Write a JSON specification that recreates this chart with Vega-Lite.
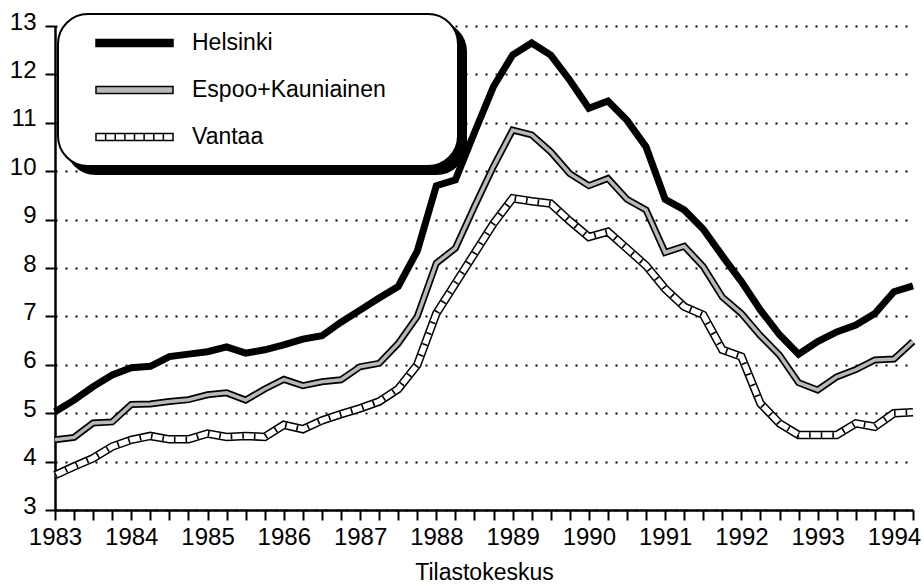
{
  "$schema": "https://vega.github.io/schema/vega-lite/v6.json",
  "width": 858,
  "height": 484,
  "autosize": {"type": "none"},
  "padding": {"left": 55, "top": 26, "right": 11, "bottom": 78},
  "background": "white",
  "config": {
    "view": {"stroke": null},
    "font": "Liberation Sans",
    "axis": {
      "domainColor": "black", "domainWidth": 2.5,
      "tickColor": "black", "tickWidth": 2, "tickSize": 10,
      "labelColor": "black", "labelFontSize": 24, "labelFont": "Liberation Sans",
      "titleFont": "Liberation Sans", "titleFontSize": 23, "titleFontWeight": "normal", "titleColor": "black",
      "labelFlush": false, "labelOverlap": false
    },
    "legend": {
      "orient": "none",
      "labelFontSize": 23, "labelFont": "Liberation Sans", "labelColor": "black", "labelLimit": 400,
      "titleFontSize": 23, "titleOrient": "right", "titlePadding": 56,
      "symbolSize": 5929, "symbolStrokeWidth": 1.5,
      "clipHeight": 26, "rowPadding": 21, "padding": 16,
      "labelOffset": 18, "symbolOffset": 21, "cornerRadius": 30,
      "strokeColor": "black", "strokeWidth": 2
    }
  },
  "data": {"values": [
    {"t": 1983.00, "Helsinki": 5.03, "Espoo+Kauniainen": 4.45, "Vantaa": 3.72},
    {"t": 1983.25, "Helsinki": 5.27, "Espoo+Kauniainen": 4.50, "Vantaa": 3.90},
    {"t": 1983.50, "Helsinki": 5.55, "Espoo+Kauniainen": 4.80, "Vantaa": 4.07},
    {"t": 1983.75, "Helsinki": 5.79, "Espoo+Kauniainen": 4.82, "Vantaa": 4.31},
    {"t": 1984.00, "Helsinki": 5.94, "Espoo+Kauniainen": 5.18, "Vantaa": 4.45},
    {"t": 1984.25, "Helsinki": 5.97, "Espoo+Kauniainen": 5.19, "Vantaa": 4.53},
    {"t": 1984.50, "Helsinki": 6.17, "Espoo+Kauniainen": 5.24, "Vantaa": 4.46},
    {"t": 1984.75, "Helsinki": 6.22, "Espoo+Kauniainen": 5.28, "Vantaa": 4.46},
    {"t": 1985.00, "Helsinki": 6.27, "Espoo+Kauniainen": 5.38, "Vantaa": 4.58},
    {"t": 1985.25, "Helsinki": 6.37, "Espoo+Kauniainen": 5.42, "Vantaa": 4.51},
    {"t": 1985.50, "Helsinki": 6.24, "Espoo+Kauniainen": 5.27, "Vantaa": 4.53},
    {"t": 1985.75, "Helsinki": 6.31, "Espoo+Kauniainen": 5.50, "Vantaa": 4.51},
    {"t": 1986.00, "Helsinki": 6.41, "Espoo+Kauniainen": 5.70, "Vantaa": 4.76},
    {"t": 1986.25, "Helsinki": 6.53, "Espoo+Kauniainen": 5.57, "Vantaa": 4.67},
    {"t": 1986.50, "Helsinki": 6.60, "Espoo+Kauniainen": 5.65, "Vantaa": 4.85},
    {"t": 1986.75, "Helsinki": 6.88, "Espoo+Kauniainen": 5.69, "Vantaa": 4.98},
    {"t": 1987.00, "Helsinki": 7.13, "Espoo+Kauniainen": 5.96, "Vantaa": 5.10},
    {"t": 1987.25, "Helsinki": 7.38, "Espoo+Kauniainen": 6.03, "Vantaa": 5.24},
    {"t": 1987.50, "Helsinki": 7.62, "Espoo+Kauniainen": 6.44, "Vantaa": 5.50},
    {"t": 1987.75, "Helsinki": 8.35, "Espoo+Kauniainen": 7.00, "Vantaa": 6.00},
    {"t": 1988.00, "Helsinki": 9.70, "Espoo+Kauniainen": 8.10, "Vantaa": 7.06},
    {"t": 1988.25, "Helsinki": 9.82, "Espoo+Kauniainen": 8.41, "Vantaa": 7.68},
    {"t": 1988.50, "Helsinki": 10.80, "Espoo+Kauniainen": 9.27, "Vantaa": 8.30},
    {"t": 1988.75, "Helsinki": 11.75, "Espoo+Kauniainen": 10.10, "Vantaa": 8.92},
    {"t": 1989.00, "Helsinki": 12.40, "Espoo+Kauniainen": 10.85, "Vantaa": 9.44},
    {"t": 1989.25, "Helsinki": 12.65, "Espoo+Kauniainen": 10.75, "Vantaa": 9.38},
    {"t": 1989.50, "Helsinki": 12.40, "Espoo+Kauniainen": 10.40, "Vantaa": 9.33},
    {"t": 1989.75, "Helsinki": 11.88, "Espoo+Kauniainen": 9.95, "Vantaa": 8.97},
    {"t": 1990.00, "Helsinki": 11.30, "Espoo+Kauniainen": 9.70, "Vantaa": 8.64},
    {"t": 1990.25, "Helsinki": 11.45, "Espoo+Kauniainen": 9.85, "Vantaa": 8.75},
    {"t": 1990.50, "Helsinki": 11.05, "Espoo+Kauniainen": 9.42, "Vantaa": 8.40},
    {"t": 1990.75, "Helsinki": 10.50, "Espoo+Kauniainen": 9.20, "Vantaa": 8.05},
    {"t": 1991.00, "Helsinki": 9.42, "Espoo+Kauniainen": 8.32, "Vantaa": 7.57},
    {"t": 1991.25, "Helsinki": 9.20, "Espoo+Kauniainen": 8.45, "Vantaa": 7.20},
    {"t": 1991.50, "Helsinki": 8.80, "Espoo+Kauniainen": 8.03, "Vantaa": 7.03},
    {"t": 1991.75, "Helsinki": 8.25, "Espoo+Kauniainen": 7.40, "Vantaa": 6.31},
    {"t": 1992.00, "Helsinki": 7.72, "Espoo+Kauniainen": 7.06, "Vantaa": 6.17},
    {"t": 1992.25, "Helsinki": 7.13, "Espoo+Kauniainen": 6.60, "Vantaa": 5.20},
    {"t": 1992.50, "Helsinki": 6.62, "Espoo+Kauniainen": 6.20, "Vantaa": 4.79},
    {"t": 1992.75, "Helsinki": 6.22, "Espoo+Kauniainen": 5.63, "Vantaa": 4.55},
    {"t": 1993.00, "Helsinki": 6.48, "Espoo+Kauniainen": 5.48, "Vantaa": 4.55},
    {"t": 1993.25, "Helsinki": 6.68, "Espoo+Kauniainen": 5.75, "Vantaa": 4.55},
    {"t": 1993.50, "Helsinki": 6.82, "Espoo+Kauniainen": 5.90, "Vantaa": 4.79},
    {"t": 1993.75, "Helsinki": 7.06, "Espoo+Kauniainen": 6.10, "Vantaa": 4.72},
    {"t": 1994.00, "Helsinki": 7.51, "Espoo+Kauniainen": 6.12, "Vantaa": 5.00},
    {"t": 1994.25, "Helsinki": 7.63, "Espoo+Kauniainen": 6.48, "Vantaa": 5.02}
  ]},
  "transform": [{"fold": ["Helsinki", "Espoo+Kauniainen", "Vantaa"], "as": ["series", "v"]}],
  "encoding": {
    "x": {
      "field": "t", "type": "quantitative",
      "scale": {"domain": [1983, 1994.25], "nice": false, "zero": false},
      "axis": {
        "title": "Tilastokeskus", "grid": false, "labelPadding": 5, "titlePadding": 12,
        "values": [1983, 1983.25, 1983.5, 1983.75, 1984, 1984.25, 1984.5, 1984.75, 1985, 1985.25, 1985.5, 1985.75, 1986, 1986.25, 1986.5, 1986.75, 1987, 1987.25, 1987.5, 1987.75, 1988, 1988.25, 1988.5, 1988.75, 1989, 1989.25, 1989.5, 1989.75, 1990, 1990.25, 1990.5, 1990.75, 1991, 1991.25, 1991.5, 1991.75, 1992, 1992.25, 1992.5, 1992.75, 1993, 1993.25, 1993.5, 1993.75, 1994, 1994.25],
        "labelExpr": "datum.value % 1 == 0 ? '' + datum.value : ''"
      }
    },
    "y": {
      "field": "v", "type": "quantitative",
      "scale": {"domain": [3, 13], "nice": false, "zero": false},
      "axis": {
        "title": null, "values": [3, 4, 5, 6, 7, 8, 9, 10, 11, 12, 13],
        "grid": true, "gridDash": [2, 8], "gridColor": "black", "gridWidth": 2,
        "labelPadding": 9, "labelOffset": -4
      }
    }
  },
  "layer": [
    {
      "transform": [{"filter": "false"}],
      "mark": {"type": "point", "filled": true},
      "encoding": {
        "color": {
          "field": "series", "type": "nominal",
          "scale": {"domain": ["Vantaa", "Espoo+Kauniainen", "Helsinki"], "range": ["black", "black", "black"]},
          "legend": {
            "title": " ", "legendX": 11, "legendY": -4, "fillColor": "black",
            "labelExpr": "''", "labelOffset": 0, "titlePadding": 270,
            "symbolOpacity": 0, "symbolStrokeWidth": 0
          }
        }
      }
    },
    {
      "transform": [{"filter": "false"}],
      "mark": {"type": "point", "filled": true, "opacity": 1},
      "encoding": {
        "fill": {
          "field": "series", "type": "nominal",
          "scale": {"domain": ["Helsinki", "Espoo+Kauniainen", "Vantaa"], "range": ["black", "#b8b8b8", "white"]},
          "legend": {"title": " ", "legendX": 3, "legendY": -12, "fillColor": "white"}
        },
        "stroke": {
          "field": "series", "type": "nominal",
          "scale": {"domain": ["Helsinki", "Espoo+Kauniainen", "Vantaa"], "range": ["black", "black", "black"]},
          "legend": {"title": " ", "legendX": 3, "legendY": -12, "fillColor": "white"}
        },
        "shape": {
          "field": "series", "type": "nominal",
          "scale": {"domain": ["Helsinki", "Espoo+Kauniainen", "Vantaa"], "range": [
            "M-1,-0.09H1V0.09H-1Z",
            "M-1,-0.09H1V0.09H-1Z",
            "M-1,-0.09H1V0.09H-1Z M-0.75,-0.09V0.09 M-0.5,-0.09V0.09 M-0.25,-0.09V0.09 M0,-0.09V0.09 M0.25,-0.09V0.09 M0.5,-0.09V0.09 M0.75,-0.09V0.09"
          ]},
          "legend": {"title": " ", "legendX": 3, "legendY": -12, "fillColor": "white"}
        }
      }
    },
    {
      "transform": [{"filter": "datum.series == 'Vantaa'"}],
      "mark": {"type": "line", "color": "black", "strokeWidth": 8.5}
    },
    {
      "transform": [{"filter": "datum.series == 'Vantaa'"}],
      "mark": {"type": "line", "color": "white", "strokeWidth": 5.5}
    },
    {
      "transform": [{"filter": "datum.series == 'Vantaa'"}],
      "mark": {"type": "line", "color": "black", "strokeWidth": 5.5, "strokeDash": [1.6, 10]}
    },
    {
      "transform": [{"filter": "datum.series == 'Espoo+Kauniainen'"}],
      "mark": {"type": "line", "color": "black", "strokeWidth": 7}
    },
    {
      "transform": [{"filter": "datum.series == 'Espoo+Kauniainen'"}],
      "mark": {"type": "line", "color": "#b8b8b8", "strokeWidth": 3.5}
    },
    {
      "transform": [{"filter": "datum.series == 'Helsinki'"}],
      "mark": {"type": "line", "color": "black", "strokeWidth": 7}
    }
  ]
}
